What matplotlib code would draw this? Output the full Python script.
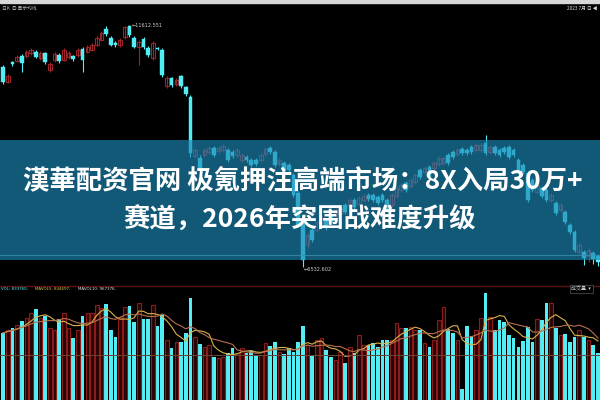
import numpy as np
import pandas as pd
import matplotlib
matplotlib.use("Agg")
import matplotlib.pyplot as plt
from matplotlib.patches import Rectangle
from matplotlib.lines import Line2D

plt.rcParams['font.family'] = ['Noto Sans CJK SC', 'DejaVu Sans']

# ---------------- data ----------------
open_ = [10733, 10418, 10838, 10859, 10964, 10964, 11027, 11048, 10922, 11027,
         10670, 10880, 10985, 10880, 10943, 10964, 10985, 11111, 11048, 11090,
         11195, 11300, 11531, 11342, 11237, 11195, 11363, 11594, 11342, 11153,
         11321, 11132, 10922, 11132, 11090, 10334, 10502, 10376, 10544, 10313,
         10103, 8864, 8822, 8885, 8948, 9032, 8969, 8990, 8990, 8948,
         8885, 8780, 8843, 8780, 8780, 8780, 8906, 9032, 8948, 8696,
         8717, 8675, 8465, 8087, 7457, 6995, 7310, 7310, 7415, 7520,
         7625, 7604, 7646, 7835, 7814, 7940, 7856, 7940, 8045, 8045,
         8003, 8045, 7940, 7835, 8024, 8150, 8297, 8234, 8318, 8570,
         8528, 8633, 8612, 8696, 8717, 8885, 8948, 8906, 9011, 8990,
         9053, 8990, 8990, 9137, 8948, 9053, 8990, 9032, 9053, 8990,
         8780, 8675, 8507, 8360, 8108, 8192, 8150, 7940, 7877, 7730,
         7688, 7415, 7268, 6848, 6848, 6764, 6827, 6764]
close = [10418, 10544, 10796, 10943, 10817, 11048, 11090, 10943, 11027, 10838,
         10796, 11006, 10859, 11090, 11027, 10901, 11090, 10880, 11153, 11195,
         11342, 11447, 11426, 11195, 11195, 11300, 11573, 11405, 11153, 11258,
         11153, 10985, 11237, 11111, 10565, 10502, 10355, 10460, 10334, 10166,
         8927, 8990, 8612, 8990, 9032, 8885, 9032, 9074, 8780, 8864,
         8990, 8885, 8780, 8675, 8696, 8885, 9011, 8948, 8675, 8780,
         8570, 8570, 8045, 7415, 6680, 7205, 7100, 7478, 7562, 7352,
         7478, 7730, 7772, 7688, 7940, 7793, 7982, 8024, 7961, 7940,
         7877, 7940, 7730, 8045, 8192, 8255, 8150, 8360, 8465, 8423,
         8612, 8423, 8717, 8822, 8822, 8717, 8843, 8990, 8927, 8927,
         8948, 9095, 9095, 8927, 9053, 8927, 8885, 8948, 8843, 8885,
         8570, 8528, 7940, 8150, 8255, 8024, 7940, 8045, 7667, 7835,
         7478, 7268, 6890, 6995, 6722, 6890, 6701, 6638]
high = [10775, 10586, 10859, 10985, 11006, 11090, 11132, 11090, 11069, 11048,
        10838, 11048, 11027, 11132, 11069, 10985, 11132, 11153, 11195, 11237,
        11384, 11489, 11594, 11384, 11279, 11342, 11594, 11612.551, 11384, 11300,
        11363, 11174, 11279, 11153, 11132, 10544, 10523, 10502, 10565, 10334,
        10145, 9032, 8885, 9032, 9074, 9074, 9074, 9116, 9032, 8990,
        9032, 8927, 8885, 8822, 8822, 8927, 9053, 9074, 8990, 8822,
        8759, 8717, 8507, 8129, 7499, 7247, 7352, 7520, 7604, 7562,
        7667, 7772, 7814, 7877, 7982, 7982, 8024, 8066, 8087, 8087,
        8045, 8087, 7982, 8087, 8234, 8297, 8339, 8402, 8507, 8612,
        8654, 8675, 8759, 8864, 8864, 8927, 8990, 9032, 9053, 9032,
        9095, 9137, 9137, 9305, 9095, 9095, 9032, 9074, 9095, 9032,
        8822, 8717, 8549, 8402, 8297, 8234, 8192, 8087, 7919, 7877,
        7730, 7457, 7310, 7037, 6890, 6932, 6869, 6806]
low = [10376, 10397, 10754, 10838, 10628, 10922, 10985, 10922, 10880, 10796,
       10628, 10838, 10817, 10859, 10901, 10859, 10943, 10628, 11027, 11069,
       11174, 11279, 11384, 11174, 11153, 11153, 11321, 11363, 11132, 10775,
       11111, 10943, 10880, 11090, 10523, 10292, 10313, 10334, 10292, 10124,
       8843, 8822, 8570, 8843, 8906, 8843, 8927, 8948, 8738, 8822,
       8843, 8738, 8738, 8633, 8654, 8738, 8864, 8906, 8633, 8654,
       8528, 8528, 8003, 7373, 6532.602, 6932, 7058, 7268, 7373, 7310,
       7436, 7562, 7604, 7646, 7772, 7751, 7814, 7898, 7919, 7898,
       7835, 7898, 7688, 7793, 7982, 8108, 8108, 8192, 8276, 8381,
       8486, 8381, 8570, 8654, 8675, 8675, 8801, 8864, 8885, 8885,
       8906, 8948, 8948, 8885, 8906, 8885, 8843, 8906, 8801, 8843,
       8528, 8486, 7898, 8108, 8066, 7982, 7898, 7898, 7625, 7688,
       7436, 7226, 6848, 6806, 6575, 6638, 6596, 6554]
volume = [67, 70, 72, 75, 79, 82, 87, 91, 82, 84,
          72, 70, 81, 87, 72, 62, 70, 84, 87, 87,
          95, 92, 96, 70, 63, 83, 93, 94, 78, 97,
          81, 81, 95, 74, 85, 60, 52, 58, 58, 67,
          102, 63, 56, 53, 55, 43, 42, 43, 47, 52,
          47, 52, 47, 49, 45, 45, 57, 54, 58, 48,
          46, 52, 48, 58, 74, 55, 44, 60, 62, 50,
          43, 40, 48, 37, 53, 47, 65, 55, 55, 57,
          53, 60, 60, 60, 77, 72, 72, 73, 70, 70,
          57, 53, 60, 80, 93, 71, 67, 60, 11, 74,
          64, 70, 82, 107, 83, 70, 80, 78, 65, 62,
          53, 59, 73, 58, 81, 80, 97, 97, 72, 65,
          66, 58, 63, 70, 63, 60, 55, 47]

peak_label = '11612.551'
low_label = '6532.602'
vol_label = ['VOL: 833760,', 'MAVOL5: 844697,', 'MAVOL10: 967376,']
title_lines = ['漢華配资官网 极氪押注高端市场：8X入局30万+',
               '赛道，2026年突围战难度升级']

# ---------------- style ----------------
CYAN = '#52eef5'
RED = '#9c2428'
VRED = '#8a1c1c'
BG = '#000000'

n = len(open_)
x = np.arange(n)
o = np.array(open_, dtype=float)
c = np.array(close, dtype=float)
h = np.array(high, dtype=float)
l = np.array(low, dtype=float)
v = np.array(volume, dtype=float)
up = c >= o

fig = plt.figure(figsize=(6, 4), dpi=100, facecolor=BG)

# price panel (pixel rows 0-285), volume panel below
axp = fig.add_axes([0, 115 / 400, 1, 285 / 400], facecolor=BG)
axv = fig.add_axes([0, 0, 1, 115 / 400], facecolor=BG)
xl = (-3 / 4.685, 597 / 4.685)
for a in (axp, axv):
    a.set_xlim(*xl)
    a.set_axis_off()
axp.set_ylim(6155, 12140)
axv.set_ylim(0, 115)

w = 0.78
body_lo = np.minimum(o, c)
body_h = np.maximum(np.abs(c - o), 18)
axp.vlines(x[~up], l[~up], h[~up], color=CYAN, lw=0.8)
axp.vlines(x[up], l[up], h[up], color=RED, lw=0.8)
axp.bar(x[up], body_h[up], bottom=body_lo[up], width=w,
        facecolor=BG, edgecolor=RED, linewidth=0.8)
axp.bar(x[~up], body_h[~up], bottom=body_lo[~up], width=w,
        facecolor=CYAN, edgecolor=CYAN, linewidth=0.3)

ip = int(np.argmax(h))
il = int(np.argmin(l))
axp.annotate('\u2190' + peak_label, (x[ip] + 0.4, h[ip]), color='#cfcfcf',
             fontsize=3.6, va='center', ha='left', family=['DejaVu Sans'])
axp.annotate('\u2190' + low_label, (x[il] + 0.1, l[il] - 60),
             color='#cfcfcf', fontsize=3.6, va='center', ha='left',
             family=['DejaVu Sans'])

# volume panel
axv.bar(x[~up], v[~up], width=w, color=CYAN, linewidth=0)
axv.bar(x[up], v[up], width=w, facecolor='#280404', edgecolor=VRED,
        linewidth=0.8)
ma5 = pd.Series(v).rolling(5, min_periods=1).mean()
ma10 = pd.Series(v).rolling(10, min_periods=1).mean()
axv.plot(x, ma5, color='#d9b24a', lw=0.8)
axv.plot(x, ma10, color='#b8704e', lw=0.8)
axv.axhline(45, color='#6a4636', lw=0.7)
axv.axhline(114.3, color='#5a1414', lw=1.0)

# volume legend texts
ty = 1 - 289 / 400
fig.text(0.002, ty, vol_label[0], color=CYAN, fontsize=2.9,
         va='center', family=['DejaVu Sans'])
fig.text(0.058, ty, vol_label[1], color='#d9c24a', fontsize=2.9,
         va='center', family=['DejaVu Sans'])
fig.text(0.130, ty, vol_label[2], color='#e0e0e0', fontsize=2.9,
         va='center', family=['DejaVu Sans'])
fig.text(0.985, ty, '成交量  ▾', color='#d0d0d0', fontsize=3.6,
         va='center', ha='right',
         bbox=dict(boxstyle='square,pad=0.3', fc=BG, ec='#555555', lw=0.5))

# top bar and tiny header texts
fig.add_artist(Rectangle((0, 1 - 3 / 400), 1, 3 / 400, transform=fig.transFigure,
                         color='#d8d8d8', zorder=2))
fig.text(0.003, 1 - 8 / 400, '日K  ◎ 显示均线', color='#bbbbbb', fontsize=3.4,
         va='center')
fig.text(0.995, 1 - 8 / 400, '2023 7月 日 ◀', color='#dddddd', fontsize=3.4,
         va='center', ha='right')

# translucent banner
fig.add_artist(Rectangle((0, 1 - 260 / 400), 1, 120 / 400,
                         transform=fig.transFigure, facecolor='#1c86b6',
                         alpha=0.66, edgecolor='none', zorder=3))
fig.add_artist(Line2D([0, 1], [1 - 255 / 400] * 2, transform=fig.transFigure,
                      color='#3a8fb0', lw=0.8, alpha=0.8, zorder=3))

# title
fig.text(0.505, 1 - 181 / 400, title_lines[0], color='white', fontsize=19,
         fontweight='bold', ha='center', va='center', zorder=5)
fig.text(0.5, 1 - 220 / 400, title_lines[1], color='white', fontsize=19,
         fontweight='bold', ha='center', va='center', zorder=5)

fig.savefig('out.png', dpi=100, facecolor=BG)
